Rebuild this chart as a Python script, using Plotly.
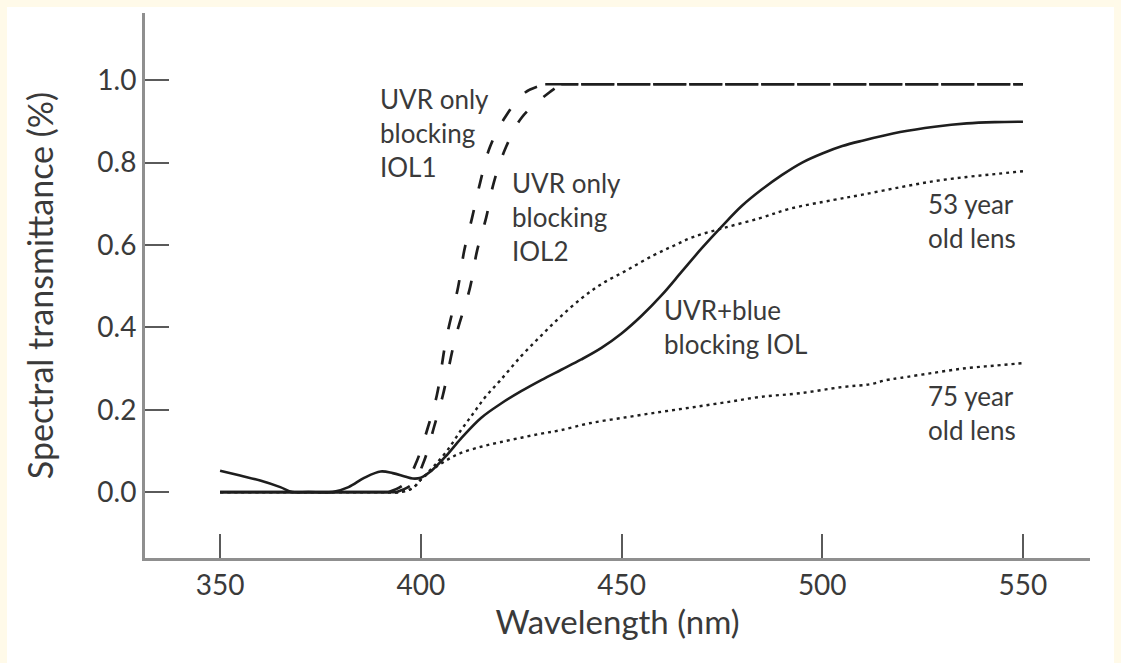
import plotly.graph_objects as go

# ---------------- data ----------------
wl_iol1 = [350, 370, 385, 392, 396, 399, 401.8, 404, 406.3, 409.3, 410.8, 412.8, 414.8,
           417.2, 421, 426, 431, 450, 475, 500, 525, 550]
t_iol1 = [0, 0, 0, 0, 0.02, 0.075, 0.158, 0.235, 0.37, 0.498, 0.585, 0.667, 0.752,
          0.837, 0.91, 0.97, 0.99, 0.99, 0.99, 0.99, 0.99, 0.99]

wl_iol2 = [350, 370, 385, 394, 398, 400.8, 403.3, 405.5, 408.5, 412.3, 414, 416.3, 418.2,
           421.2, 425.2, 432, 435, 450, 475, 500, 525, 550]
t_iol2 = [0, 0, 0, 0, 0.02, 0.075, 0.158, 0.235, 0.37, 0.498, 0.585, 0.667, 0.752,
          0.837, 0.91, 0.97, 0.99, 0.99, 0.99, 0.99, 0.99, 0.99]

wl_blue = [350, 355, 360, 365, 368, 372, 378, 382, 386, 390, 393, 396, 398, 400, 403,
           406.5, 410, 415, 420, 425, 430, 435, 440, 445, 450, 455, 460, 465,
           470, 475, 480, 485, 490, 495, 500, 505, 510, 519.4, 528, 536, 543, 550]
t_blue = [0.052, 0.04, 0.028, 0.012, 0, 0, 0, 0.012, 0.035, 0.05, 0.046, 0.038, 0.033,
          0.035, 0.055, 0.09, 0.13, 0.18, 0.215, 0.245, 0.272, 0.297, 0.322, 0.35, 0.385,
          0.428, 0.478, 0.535, 0.592, 0.645, 0.695, 0.735, 0.77, 0.8, 0.822, 0.84,
          0.853, 0.874, 0.887, 0.895, 0.898, 0.899]

wl_53 = [350, 370, 390, 395, 398, 400, 403, 406.5, 410, 413, 416, 419.7, 425, 430,
         434.7, 440, 445, 451.4, 458, 463, 467.8, 475, 484.5, 492, 502.7, 510, 519.4,
         528, 536, 543, 550]
t_53 = [0, 0, 0, 0, 0.01, 0.03, 0.06, 0.1, 0.15, 0.19, 0.23, 0.27, 0.33, 0.38,
        0.425, 0.47, 0.505, 0.539, 0.575, 0.598, 0.619, 0.64, 0.665, 0.688, 0.709,
        0.722, 0.74, 0.755, 0.765, 0.772, 0.779]

wl_75 = [350, 370, 390, 395, 398, 400, 403, 406.5, 410, 415, 419.7, 425, 430, 434.7,
         442, 451.4, 460, 467.8, 476, 484.5, 494.4, 505, 512, 516, 519.4, 528, 536,
         543, 550]
t_75 = [0, 0, 0, 0, 0.01, 0.03, 0.055, 0.078, 0.095, 0.11, 0.121, 0.132, 0.142, 0.15,
        0.167, 0.182, 0.195, 0.206, 0.218, 0.231, 0.24, 0.255, 0.262, 0.272, 0.277,
        0.29, 0.301, 0.307, 0.313]

x_ticks = [350, 400, 450, 500, 550]
y_ticks = [0.0, 0.2, 0.4, 0.6, 0.8, 1.0]
y_tick_text = ["0.0", "0.2", "0.4", "0.6", "0.8", "1.0"]

labels = {
    "iol1": "UVR only<br>blocking<br>IOL1",
    "iol2": "UVR only<br>blocking<br>IOL2",
    "blue": "UVR+blue<br>blocking IOL",
    "y53": "53 year<br>old lens",
    "y75": "75 year<br>old lens",
}

# ---------------- figure ----------------
INK = "#1e1e1e"
TXT = "#3a3a3a"
FONT = "Lato"
CREAM = "#fffae9"

fig = go.Figure()


def split_parts(xs, ys):
    # zero baseline part, rising part, saturated (flat) part
    z = max(i for i, v in enumerate(ys) if v == 0)
    k = ys.index(max(ys))
    return (xs[:z + 1], ys[:z + 1]), (xs[z:k + 1], ys[z:k + 1]), (xs[k:], ys[k:])


flat_dash = ["33px,3px", "17px,3px,16px,0px"]
for i, (xs, ys) in enumerate([(wl_iol1, t_iol1), (wl_iol2, t_iol2)]):
    (zx, zy), (rx, ry), (fx, fy) = split_parts(xs, ys)
    fig.add_trace(go.Scatter(x=zx, y=zy, mode="lines",
                             line=dict(color=INK, width=2.6),
                             hoverinfo="skip", showlegend=False))
    fig.add_trace(go.Scatter(x=rx, y=ry, mode="lines", line_shape="spline",
                             line=dict(color=INK, width=2.7, dash="14px,22px"),
                             hoverinfo="skip", showlegend=False))
    fig.add_trace(go.Scatter(x=fx, y=fy, mode="lines",
                             line=dict(color=INK, width=2.6, dash=flat_dash[i]),
                             hoverinfo="skip", showlegend=False))

fig.add_trace(go.Scatter(x=wl_53, y=t_53, mode="lines", line_shape="spline",
                         line=dict(color=INK, width=2.4, dash="3px,4px"),
                         hoverinfo="skip", showlegend=False))
fig.add_trace(go.Scatter(x=wl_75, y=t_75, mode="lines", line_shape="spline",
                         line=dict(color=INK, width=2.4, dash="3px,4px"),
                         hoverinfo="skip", showlegend=False))
fig.add_trace(go.Scatter(x=wl_blue, y=t_blue, mode="lines", line_shape="spline",
                         line=dict(color=INK, width=2.6),
                         hoverinfo="skip", showlegend=False))

ann_font = dict(family=FONT, size=26, color=TXT)
for key, x, y in [("iol1", 389.4, 0.998), ("iol2", 422.3, 0.793),
                  ("blue", 460.0, 0.485), ("y53", 525.8, 0.742),
                  ("y75", 525.8, 0.277)]:
    fig.add_annotation(x=x, y=y, xref="x", yref="y", text=labels[key],
                       showarrow=False, xanchor="left", yanchor="top",
                       align="left", font=ann_font)

# white page on cream frame
fig.add_shape(type="rect", xref="paper", yref="paper",
              x0=(7 - 145) / 945, x1=(1114 - 145) / 945,
              y0=(558 - 680) / 545, y1=(558 - 7) / 545,
              fillcolor="white", line=dict(width=0), layer="below")

axis_common = dict(showline=True, linecolor="#8f8f8f", linewidth=3,
                   ticks="inside", ticklen=24, tickwidth=2, tickcolor="#5a5a5a",
                   showgrid=False, zeroline=False, mirror=False,
                   tickfont=dict(family=FONT, size=28, color=TXT))

fig.update_xaxes(range=[331.3, 566.7], tickvals=x_ticks, ticktext=[str(v) for v in x_ticks],
                 title=dict(text="Wavelength (nm)", font=dict(family=FONT, size=33, color=TXT),
                            standoff=0),
                 **axis_common)
fig.update_yaxes(range=[-0.160, 1.163], tickvals=y_ticks, ticktext=y_tick_text,
                 title=dict(text="Spectral transmittance (%)",
                            font=dict(family=FONT, size=34, color=TXT), standoff=34),
                 **axis_common)

fig.update_layout(width=1121, height=663,
                  margin=dict(l=145, r=31, t=13, b=105, autoexpand=False),
                  paper_bgcolor=CREAM, plot_bgcolor="rgba(0,0,0,0)",
                  hovermode=False)

fig.write_html("out.html", config={"displayModeBar": False},
               post_script="document.body.style.margin='0';"
                           "document.body.style.background='%s';" % CREAM)
